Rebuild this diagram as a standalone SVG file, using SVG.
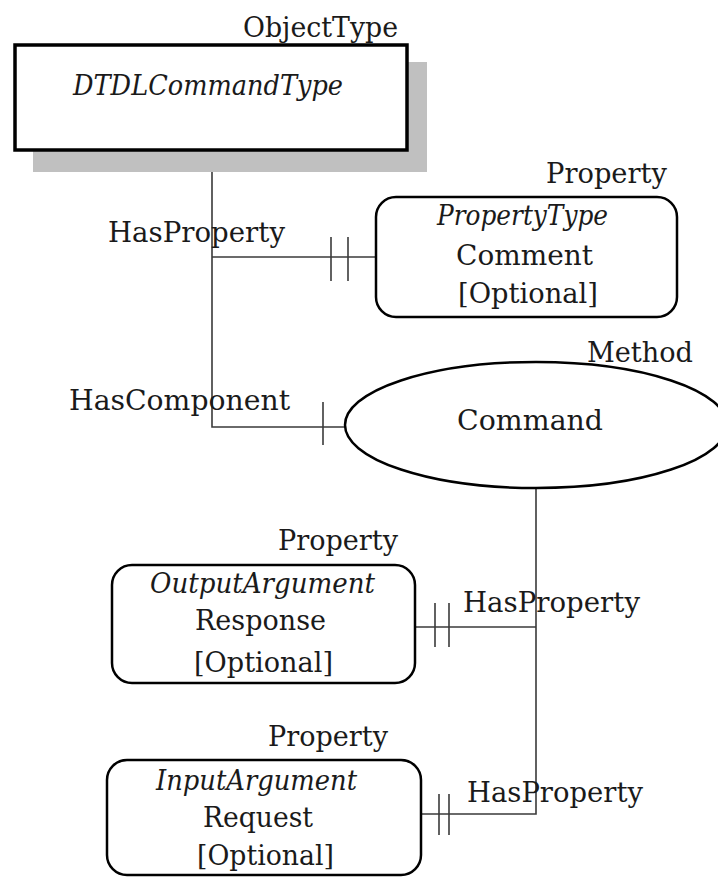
<svg xmlns="http://www.w3.org/2000/svg" width="718" height="877" viewBox="0 0 718 877">
<style>
text { font-family: "DejaVu Serif", "Liberation Serif", serif; font-size: 27px; fill: #1a1a1a; }
.it { font-style: italic; }
.node { fill: #ffffff; stroke: #000000; stroke-width: 2.5; }
.conn { stroke: #3a3a3a; stroke-width: 1.6; fill: none; }
</style>
<rect x="0" y="0" width="718" height="877" fill="#ffffff"/>
<g id="connectors">
  <polyline class="conn" points="212,150 212,427 345,427"/>
  <line class="conn" x1="212" y1="257" x2="376" y2="257"/>
  <line class="conn" x1="331" y1="237" x2="331" y2="281"/>
  <line class="conn" x1="348" y1="237" x2="348" y2="281"/>
  <line class="conn" x1="323" y1="402" x2="323" y2="445"/>
  <polyline class="conn" points="536,488 536,814 421,814"/>
  <line class="conn" x1="536" y1="627" x2="415" y2="627"/>
  <line class="conn" x1="435" y1="603" x2="435" y2="647"/>
  <line class="conn" x1="449" y1="603" x2="449" y2="647"/>
  <line class="conn" x1="439" y1="794" x2="439" y2="835"/>
  <line class="conn" x1="449" y1="794" x2="449" y2="835"/>
  <text x="108" y="242" textLength="177" lengthAdjust="spacingAndGlyphs">HasProperty</text>
  <text x="69" y="410" textLength="221" lengthAdjust="spacingAndGlyphs">HasComponent</text>
  <text x="463" y="612" textLength="177" lengthAdjust="spacingAndGlyphs">HasProperty</text>
  <text x="467" y="802" textLength="176" lengthAdjust="spacingAndGlyphs">HasProperty</text>
</g>
<g id="DTDLCommandType">
  <rect x="33" y="62" width="394" height="110" fill="#c0c0c0"/>
  <rect x="15" y="45" width="392" height="105" fill="#ffffff" stroke="#000000" stroke-width="3.5"/>
  <text x="243" y="37" textLength="155" lengthAdjust="spacingAndGlyphs">ObjectType</text>
  <text class="it" x="73" y="95" textLength="270" lengthAdjust="spacingAndGlyphs">DTDLCommandType</text>
</g>
<g id="Comment">
  <rect class="node" x="376" y="197" width="301" height="120" rx="20"/>
  <text x="546" y="183" textLength="121" lengthAdjust="spacingAndGlyphs">Property</text>
  <text class="it" x="437" y="225" textLength="171" lengthAdjust="spacingAndGlyphs">PropertyType</text>
  <text x="456" y="265" textLength="137" lengthAdjust="spacingAndGlyphs">Comment</text>
  <text x="458" y="303" textLength="140" lengthAdjust="spacingAndGlyphs">[Optional]</text>
</g>
<g id="Command">
  <ellipse class="node" cx="536" cy="425" rx="191" ry="63"/>
  <text x="587" y="362" textLength="106" lengthAdjust="spacingAndGlyphs">Method</text>
  <text x="457" y="430" textLength="146" lengthAdjust="spacingAndGlyphs">Command</text>
</g>
<g id="Response">
  <rect class="node" x="112" y="565" width="303" height="118" rx="20"/>
  <text x="278" y="550" textLength="120" lengthAdjust="spacingAndGlyphs">Property</text>
  <text class="it" x="150" y="593" textLength="225" lengthAdjust="spacingAndGlyphs">OutputArgument</text>
  <text x="195" y="630" textLength="131" lengthAdjust="spacingAndGlyphs">Response</text>
  <text x="194" y="672" textLength="139" lengthAdjust="spacingAndGlyphs">[Optional]</text>
</g>
<g id="Request">
  <rect class="node" x="107" y="760" width="314" height="115" rx="20"/>
  <text x="268" y="746" textLength="120" lengthAdjust="spacingAndGlyphs">Property</text>
  <text class="it" x="156" y="790" textLength="201" lengthAdjust="spacingAndGlyphs">InputArgument</text>
  <text x="203" y="827" textLength="110" lengthAdjust="spacingAndGlyphs">Request</text>
  <text x="197" y="865" textLength="137" lengthAdjust="spacingAndGlyphs">[Optional]</text>
</g>
</svg>
